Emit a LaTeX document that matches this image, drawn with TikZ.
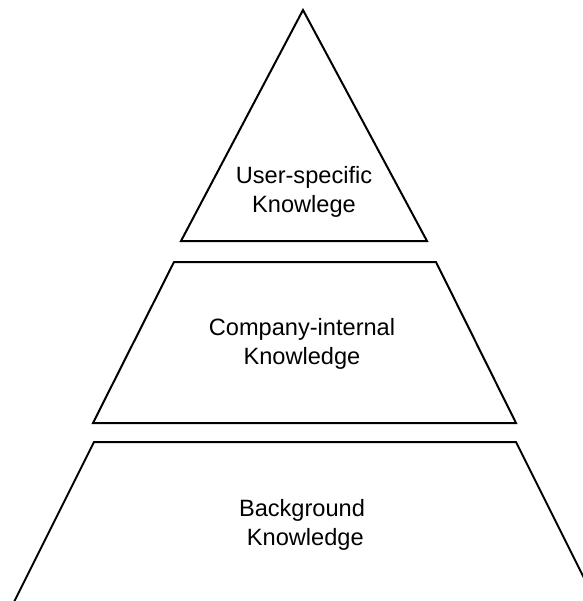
\documentclass[tikz,border=0pt]{standalone}
\usepackage{fontspec}
\setmainfont{Liberation Sans}
\usetikzlibrary{positioning}
\begin{document}
\begin{tikzpicture}[x=0.5pt,y=-0.5pt,
  layer/.style={draw,line width=1pt,line join=miter},
  layertext/.style={align=center,inner sep=0pt,font=\fontsize{11.8}{14.2}\selectfont}]
\useasboundingbox (0,0) rectangle (583,601);
\clip (0,0) rectangle (583,601);
%
% top: triangle
\draw[layer] (303,10) -- (427,241) -- (181,241) -- cycle;
\node[layertext] (user) at (304,192) {User-specific\\Knowlege};
%
% middle
\draw[layer] (174,262) -- (436,262) -- (516,423) -- (93,423) -- cycle;
\node[layertext] (company) at (302,344) {Company-internal\\Knowledge};
%
% bottom, runs off the page
\draw[layer] (94,442) -- (516,442) -- (605,620) -- (5,620) -- cycle;
\node[layertext] (background) at (302,525) {Background\\\ Knowledge};
%
\end{tikzpicture}
\end{document}
